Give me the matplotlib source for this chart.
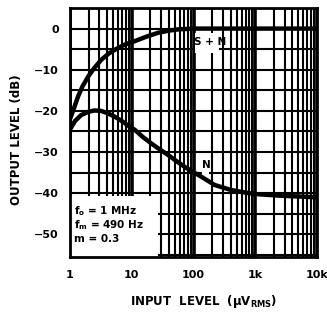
import matplotlib
matplotlib.use("Agg")
import matplotlib.pyplot as plt
from matplotlib.patches import Rectangle
from matplotlib.ticker import FixedLocator, NullFormatter
import numpy as np

plt.rcParams['font.family'] = ['Liberation Sans Narrow', 'DejaVu Sans Condensed', 'DejaVu Sans']
plt.rcParams['font.weight'] = 'bold'

# Data
sn_x = [1, 1.15, 1.35, 1.6, 2, 2.5, 3.2, 4.3, 6, 8, 11, 17, 27, 40, 56, 100, 300, 1000, 3000, 10000]
sn_y = [-22, -19.5, -16.5, -14, -11.5, -9.5, -7.6, -6, -4.7, -3.8, -3.1, -2, -1, -0.5, -0.2, 0, 0, 0, 0, 0]
n_x = [1, 1.2, 1.52, 2, 2.5, 3.2, 4.1, 5.3, 6.8, 9, 11.2, 15, 20.7, 28, 38.6, 53, 72, 100, 134, 220, 400, 724, 1000, 2500, 10000]
n_y = [-24.5, -22.5, -21, -20.2, -19.9, -20, -20.6, -21.4, -22.4, -23.7, -24.6, -26.3, -27.9, -29.3, -30.7, -32.2, -33.6, -34.9, -36, -38, -39.2, -39.9, -40.2, -40.6, -41]

x_ticks = [1, 10, 100, 1000, 10000]
x_labels = ['1', '10', '100', '1k', '10k']
y_ticks = [0, -10, -20, -30, -40, -50]
y_labels = ['0', '\u221210', '\u221220', '\u221230', '\u221240', '\u221250']

fig = plt.figure(figsize=(3.27, 3.18), dpi=100)
ax = fig.add_axes([70/327, 1-257/318, 247/327, 249/318])
ax.set_xscale('log')
ax.set_xlim(1, 10000)
ax.set_ylim(-55.5, 5)

# grid
minor = [m * 10**d for d in range(4) for m in range(2, 10)]
for v in minor:
    ax.axvline(v, color='black', lw=1.5, zorder=1)
for v in x_ticks:
    ax.axvline(v, color='black', lw=2.6, zorder=1)
for h in range(-55, 6, 5):
    ax.axhline(h, color='black', lw=1.5, zorder=1)

# white boxes
ax.add_patch(Rectangle((1, -55.5), 26, 14.7, facecolor='white', edgecolor='none', zorder=2))
ax.add_patch(Rectangle((106, -6.0), 150, 5.0, facecolor='white', edgecolor='none', zorder=2))
ax.add_patch(Rectangle((135, -35.5), 45, 4.6, facecolor='white', edgecolor='none', zorder=2))

ax.plot(sn_x, sn_y, color='black', lw=3.2, zorder=3, solid_capstyle='butt')
ax.plot(n_x, n_y, color='black', lw=3.2, zorder=3, solid_capstyle='butt')

ax.text(188, -3.3, 'S + N', ha='center', va='center', fontsize=7.5, fontweight='bold', zorder=4)
ax.text(160, -33.2, 'N', ha='center', va='center', fontsize=7.5, fontweight='bold', zorder=4)

ax.text(1.15, -44.3, 'f$_\\mathbf{o}$ = 1 MHz', ha='left', va='center', fontsize=7.5, fontweight='bold', zorder=4)
ax.text(1.15, -47.8, 'f$_\\mathbf{m}$ = 490 Hz', ha='left', va='center', fontsize=7.5, fontweight='bold', zorder=4)
ax.text(1.15, -51.2, 'm = 0.3', ha='left', va='center', fontsize=7.5, fontweight='bold', zorder=4)

ax.xaxis.set_major_locator(FixedLocator(x_ticks))
ax.set_xticklabels(x_labels)
ax.xaxis.set_minor_locator(FixedLocator(minor))
ax.xaxis.set_minor_formatter(NullFormatter())
ax.set_yticks(y_ticks)
ax.set_yticklabels(y_labels)
ax.tick_params(axis='both', which='major', length=0, labelsize=8, pad=8)
ax.tick_params(axis='x', which='major', pad=9)
ax.tick_params(axis='x', which='minor', direction='in', length=2.5, width=1.0, bottom=True)
ax.tick_params(axis='y', which='minor', length=0)
for lab in ax.get_xticklabels() + ax.get_yticklabels():
    lab.set_fontweight('bold')

for s in ax.spines.values():
    s.set_linewidth(2.0)
    s.set_zorder(5)

ax.set_xlabel('INPUT  LEVEL  (\u00b5V$_{\\mathbf{RMS}}$)', fontsize=8.5, fontweight='bold', va='center')
ax.xaxis.set_label_coords((204 - 70) / 247, (257 - 302) / 249)
ax.set_ylabel('OUTPUT LEVEL (dB)', fontsize=8.5, fontweight='bold', va='center')
ax.yaxis.set_label_coords((17 - 70) / 247, (257 - 140) / 249)

fig.savefig('out.png', dpi=100)
